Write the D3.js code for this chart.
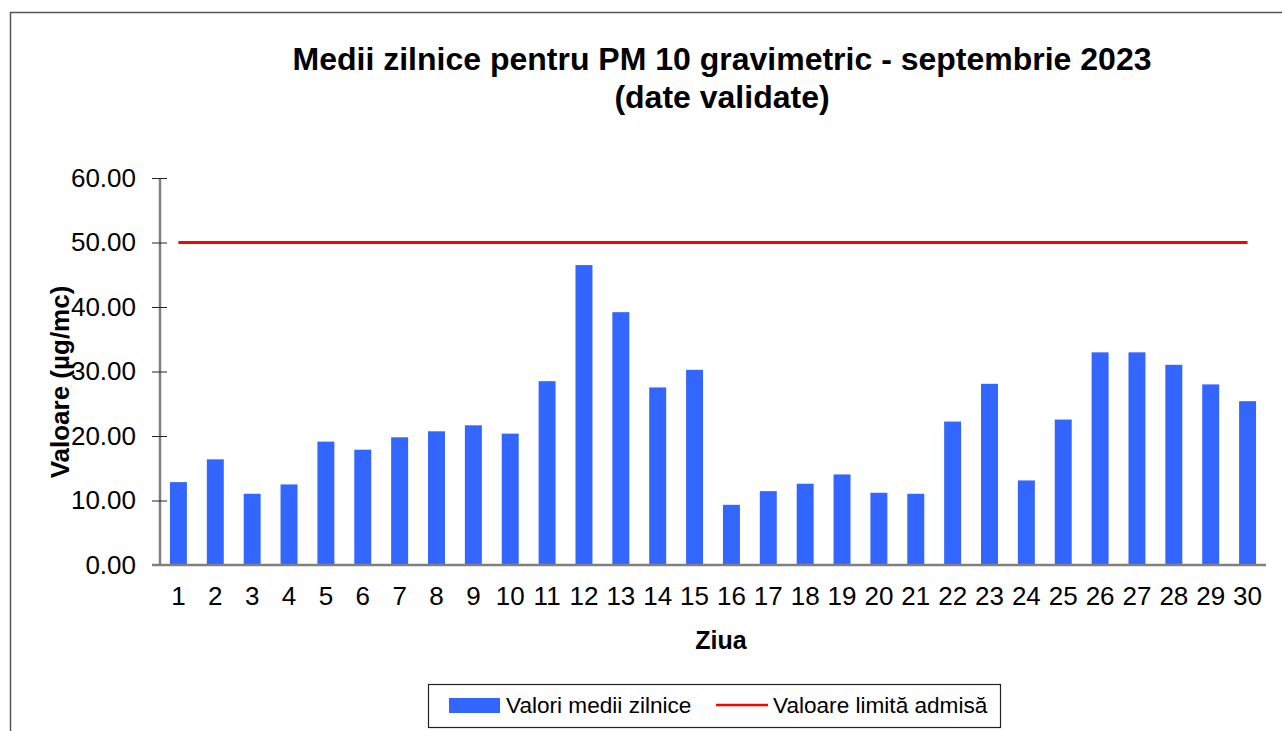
<!DOCTYPE html>
<html>
<head>
<meta charset="utf-8">
<script src="https://cdn.jsdelivr.net/npm/d3@7"></script>
<style>
  body { margin: 0; background: #fff; }
  svg { display: block; font-family: "Liberation Sans", Arial, sans-serif; }
</style>
</head>
<body>
<svg></svg>
<script>
// data
const days = d3.range(1, 31);
const dailyMeans = [12.85, 16.38, 11.04, 12.49, 19.13, 17.88, 19.8, 20.73, 21.66, 20.37,
    28.5, 46.5, 39.2, 27.53, 30.26, 9.33, 11.45, 12.6, 14.04, 11.2,
    11.04, 22.24, 28.09, 13.11, 22.55, 32.97, 32.97, 31.04, 28.0, 25.4];
const limitValue = 50;
const yTicks = [0, 10, 20, 30, 40, 50, 60];

const titleLines = ['Medii zilnice pentru PM 10 gravimetric - septembrie 2023', '(date validate)'];
const yLabel = 'Valoare (µg/mc)';
const xLabel = 'Ziua';
const legendLabels = ['Valori medii zilnice', 'Valoare limită admisă'];

const W = 1282, H = 731;
const plot = {l: 160, r: 1266, t: 178, b: 565};

const barColor = '#3366ff';
const limitColor = '#ff0000';

const svg = d3.select('svg')
    .attr('width', W)
    .attr('height', H);

// outer frame (right/bottom run off the picture)
svg.append('rect')
    .attr('x', 10.5).attr('y', 12.5)
    .attr('width', 1400).attr('height', 900)
    .attr('fill', 'none')
    .attr('stroke', '#555')
    .attr('stroke-width', 1.5);

const scaleX = d3.scaleBand()
    .domain(days)
    .range([plot.l, plot.r])
    .paddingInner(0.54)
    .paddingOuter(0.27);

const scaleY = d3.scaleLinear()
    .domain([0, 60])
    .range([plot.b, plot.t]);

// title
svg.append('text')
    .attr('x', 722)
    .attr('y', 70)
    .attr('text-anchor', 'middle')
    .attr('font-size', 32)
    .attr('font-weight', 'bold')
    .selectAll('tspan')
    .data(titleLines)
    .join('tspan')
    .attr('x', 722)
    .attr('dy', (d, i) => i === 0 ? 0 : 38)
    .text(d => d);

// bars
svg.append('g')
    .selectAll('rect')
    .data(days)
    .join('rect')
    .attr('x', d => scaleX(d))
    .attr('y', (d, i) => scaleY(dailyMeans[i]))
    .attr('width', scaleX.bandwidth())
    .attr('height', (d, i) => scaleY(0) - scaleY(dailyMeans[i]))
    .attr('fill', barColor);

// limit line
const line = d3.line()
    .x(d => scaleX(d) + scaleX.bandwidth() / 2)
    .y(() => scaleY(limitValue));

svg.append('path')
    .datum(days)
    .attr('d', line)
    .attr('fill', 'none')
    .attr('stroke', limitColor)
    .attr('stroke-width', 3);

// y axis
const axisY = d3.axisLeft(scaleY)
    .tickValues(yTicks)
    .tickFormat(d3.format('.2f'))
    .tickSize(8)
    .tickPadding(16);

const axisYG = svg.append('g')
    .attr('transform', `translate(${plot.l}, 0)`)
    .call(axisY);
axisYG.select('.domain')
    .attr('d', `M0,${plot.t}V${plot.b}`)
    .attr('stroke', '#808080')
    .attr('stroke-width', 2.5);
axisYG.selectAll('.tick line')
    .attr('x1', -8).attr('x2', 7)
    .attr('stroke', '#222');
axisYG.selectAll('.tick text')
    .attr('font-size', 26)
    .attr('font-family', '"Liberation Sans", Arial, sans-serif')
    .attr('fill', '#000');

// x axis
const axisX = d3.axisBottom(scaleX)
    .tickSize(0)
    .tickPadding(21.5);

const axisXG = svg.append('g')
    .attr('transform', `translate(0, ${plot.b})`)
    .call(axisX);
axisXG.select('.domain')
    .attr('d', `M${plot.l - 8},0H${plot.r}`)
    .attr('stroke', '#808080')
    .attr('stroke-width', 2.5);
axisXG.selectAll('.tick text')
    .attr('font-size', 26)
    .attr('font-family', '"Liberation Sans", Arial, sans-serif')
    .attr('fill', '#000');

// axis titles
svg.append('text')
    .attr('transform', 'translate(69, 382) rotate(-90)')
    .attr('text-anchor', 'middle')
    .attr('font-size', 26)
    .attr('font-weight', 'bold')
    .text(yLabel);

svg.append('text')
    .attr('x', 721)
    .attr('y', 649)
    .attr('text-anchor', 'middle')
    .attr('font-size', 25)
    .attr('font-weight', 'bold')
    .text(xLabel);

// legend
const legend = svg.append('g');
legend.append('rect')
    .attr('x', 428.5).attr('y', 684.5)
    .attr('width', 572).attr('height', 43)
    .attr('fill', '#fff')
    .attr('stroke', '#222')
    .attr('stroke-width', 1.2);
legend.append('rect')
    .attr('x', 449).attr('y', 698)
    .attr('width', 51).attr('height', 15)
    .attr('fill', barColor);
legend.append('line')
    .attr('x1', 716).attr('x2', 768)
    .attr('y1', 705).attr('y2', 705)
    .attr('stroke', limitColor)
    .attr('stroke-width', 2.5);
legend.selectAll('text.lbl')
    .data(legendLabels)
    .join('text')
    .attr('class', 'lbl')
    .attr('x', (d, i) => i === 0 ? 506 : 773)
    .attr('y', 713)
    .attr('font-size', 22.6)
    .text(d => d);
</script>
</body>
</html>
